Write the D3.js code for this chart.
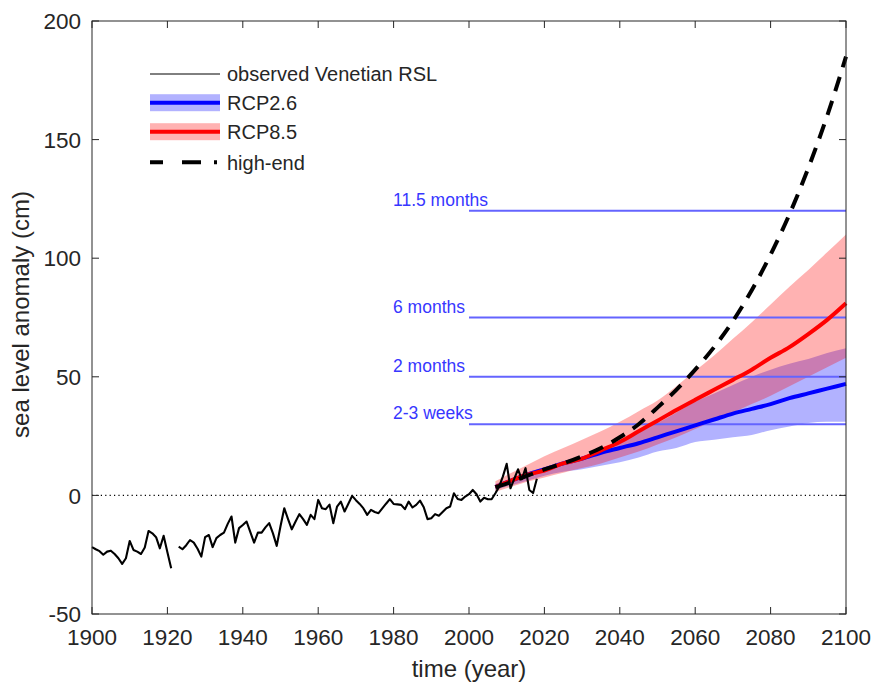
<!DOCTYPE html>
<html>
<head>
<meta charset="utf-8">
<script src="https://cdn.jsdelivr.net/npm/d3@7"></script>
<style>
  body { margin: 0; background: #fff; }
  svg { display: block; font-family: "Liberation Sans", Arial, Helvetica, sans-serif; }
</style>
</head>
<body>
<div id="chart"></div>
<script>
////////////////////////////// DATA ////////////////////////////////////

// Observed Venetian relative sea level, annual values 1900-2018 (1922 missing)
const obsStartYear = 1900;
const obsValues = [
  -21.8, -22.7, -23.5, -25, -23.7, -23.3, -24.7, -26.5, -28.9, -26.5,
  -19.2, -23, -23.7, -24.7, -22, -15, -16, -17.6, -22.3, -17,
  -24, -30.7, null, -21.6, -22.7, -21, -18.8, -19.9, -22.5, -25.8,
  -17.6, -16.7, -21.8, -18, -16.7, -15.7, -12, -8.9, -19.9, -13.8,
  -12.5, -11, -15.5, -19.9, -15.7, -15.7, -13.5, -11.7, -16, -21.3,
  -13, -5.4, -10, -14.3, -11, -7.9, -10, -12.4, -8.2, -10,
  -1.9, -5.4, -5.8, -3.9, -11.7, -4.7, -2.6, -6.8, -3.5, -0.2,
  -2, -3.6, -5.5, -8.2, -6.1, -7, -7.5, -5.5, -3.5, -1.6,
  -3.6, -3.8, -4, -5.8, -2.6, -5.1, -4, -2.2, -5, -10,
  -9.6, -7.9, -8.6, -7, -5.4, -4.7, 0.9, -1.5, -1.9, -0.5,
  0.5, 2.3, 0.5, -2.6, -1, -1.6, -1.6, 0.9, 3.7, 8,
  13.3, 3, 7, 11, 6.8, 11.5, 2.3, 1, 7
];

// Projection years
const projYears = [2007, 2010, 2015, 2020, 2025, 2030, 2035, 2040, 2045, 2050,
  2055, 2060, 2065, 2070, 2075, 2080, 2085, 2090, 2095, 2100];

// RCP2.6 median and 5-95% range
const rcp26Mid = [3.5, 5.5, 8.5, 11, 13.5, 15.5, 18, 20, 22, 24.5,
  27, 29.5, 32, 34.5, 36.5, 38.5, 41, 43, 45, 47];
const rcp26Low = [2.3, 3.7, 6, 8.3, 10, 11, 12.5, 14, 16, 18.5,
  20, 22.5, 23.5, 24.5, 25.5, 27.5, 29, 30.5, 31, 31];
const rcp26High = [4.8, 6.5, 9.5, 12, 14.5, 16.5, 19.5, 22.5, 26.5, 30.5,
  35, 39.5, 43, 46.5, 50, 53, 55.5, 57.5, 60, 62];

// RCP8.5 median and 5-95% range
const rcp85Mid = [3.5, 5.5, 8.5, 10.5, 13.5, 15.5, 19, 22.5, 27, 31.5,
  36, 40.3, 44.5, 48.7, 53, 58, 62.5, 68, 74, 81];
const rcp85Low = [1.5, 3, 5.5, 7.5, 9.5, 11.5, 13.5, 16, 18.5, 21.5,
  24.5, 28, 31.5, 35, 38.5, 42, 46, 50, 54, 58];
const rcp85High = [6, 8.5, 12.5, 16.5, 20, 23.5, 27, 31, 35.5, 40,
  46, 52.5, 59, 66, 73, 80.5, 88, 95, 102.5, 110];

// High-end scenario
const highEnd = [3.5, 5, 8, 11, 13.5, 16.5, 20, 24.5, 30, 37,
  44.5, 53, 62.5, 73.5, 86.5, 101.5, 118.5, 138, 160, 185];

// Flooding frequency thresholds
const thresholdValues = [120, 75, 50, 30];
const thresholdLabels = ["11.5 months", "6 months", "2 months", "2-3 weeks"];

// Axis ticks
const xTicks = [1900, 1920, 1940, 1960, 1980, 2000, 2020, 2040, 2060, 2080, 2100];
const yTicks = [-50, 0, 50, 100, 150, 200];

////////////////////////////// SET UP ////////////////////////////////////

const width = 876;
const height = 688;
const plot = { left: 92, right: 846, top: 21, bottom: 614 };
const axisColor = "#262626";

const svg = d3
  .select("#chart")
  .append("svg")
  .attr("width", width)
  .attr("height", height);

const x = d3.scaleLinear().domain([1900, 2100]).range([plot.left, plot.right]);
const y = d3.scaleLinear().domain([-50, 200]).range([plot.bottom, plot.top]);

const obs = obsValues.map((v, i) => ({ year: obsStartYear + i, value: v }));
const proj = projYears.map((yr, i) => ({
  year: yr,
  mid26: rcp26Mid[i], low26: rcp26Low[i], high26: rcp26High[i],
  mid85: rcp85Mid[i], low85: rcp85Low[i], high85: rcp85High[i],
  high: highEnd[i],
}));

////////////////////////////// BANDS ////////////////////////////////////

const band = (lo, hi) =>
  d3.area()
    .curve(d3.curveMonotoneX)
    .x((d) => x(d.year))
    .y0((d) => y(d[lo]))
    .y1((d) => y(d[hi]));

svg.append("path")
  .datum(proj)
  .attr("d", band("low26", "high26"))
  .attr("fill", "rgb(0,0,255)")
  .attr("fill-opacity", 0.3);

svg.append("path")
  .datum(proj)
  .attr("d", band("low85", "high85"))
  .attr("fill", "rgb(255,0,0)")
  .attr("fill-opacity", 0.3);

////////////////////////////// THRESHOLD LINES ////////////////////////////////////

svg.selectAll(".threshold")
  .data(thresholdValues)
  .join("line")
  .attr("class", "threshold")
  .attr("x1", x(2000))
  .attr("x2", x(2100))
  .attr("y1", (d) => y(d))
  .attr("y2", (d) => y(d))
  .attr("stroke", "rgb(100,100,255)")
  .attr("stroke-width", 2);

svg.selectAll(".threshold-label")
  .data(thresholdValues)
  .join("text")
  .attr("class", "threshold-label")
  .attr("x", 393)
  .attr("y", (d) => y(d) - 5)
  .attr("fill", "rgb(55,55,255)")
  .style("font-size", "17.5px")
  .text((d, i) => thresholdLabels[i]);

// zero line
svg.append("line")
  .attr("x1", plot.left)
  .attr("x2", plot.right)
  .attr("y1", y(0))
  .attr("y2", y(0))
  .attr("stroke", "#000")
  .attr("stroke-width", 1.2)
  .attr("stroke-dasharray", "1.2,3.2");

////////////////////////////// LINES ////////////////////////////////////

const lineOf = (key) =>
  d3.line().curve(d3.curveMonotoneX).x((d) => x(d.year)).y((d) => y(d[key]));

svg.append("path")
  .datum(proj)
  .attr("d", lineOf("mid26"))
  .attr("fill", "none")
  .attr("stroke", "#0000ff")
  .attr("stroke-width", 4);

svg.append("path")
  .datum(proj)
  .attr("d", lineOf("mid85"))
  .attr("fill", "none")
  .attr("stroke", "#ff0000")
  .attr("stroke-width", 4);

svg.append("path")
  .datum(obs)
  .attr("d", d3.line()
    .defined((d) => d.value !== null)
    .x((d) => x(d.year))
    .y((d) => y(d.value)))
  .attr("fill", "none")
  .attr("stroke", "#000")
  .attr("stroke-width", 2.1)
  .attr("stroke-linejoin", "round");

svg.append("path")
  .datum(proj)
  .attr("d", lineOf("high"))
  .attr("fill", "none")
  .attr("stroke", "#000")
  .attr("stroke-width", 4)
  .attr("stroke-dasharray", "15,10");

////////////////////////////// AXES ////////////////////////////////////

const tickLen = 7;
const frame = svg.append("g").attr("stroke", axisColor).attr("stroke-width", 1);

frame.append("rect")
  .attr("x", plot.left)
  .attr("y", plot.top)
  .attr("width", plot.right - plot.left)
  .attr("height", plot.bottom - plot.top)
  .attr("fill", "none");

xTicks.forEach((t) => {
  frame.append("line").attr("x1", x(t)).attr("x2", x(t))
    .attr("y1", plot.bottom).attr("y2", plot.bottom - tickLen);
  frame.append("line").attr("x1", x(t)).attr("x2", x(t))
    .attr("y1", plot.top).attr("y2", plot.top + tickLen);
});
yTicks.forEach((t) => {
  frame.append("line").attr("y1", y(t)).attr("y2", y(t))
    .attr("x1", plot.left).attr("x2", plot.left + tickLen);
  frame.append("line").attr("y1", y(t)).attr("y2", y(t))
    .attr("x1", plot.right).attr("x2", plot.right - tickLen);
});

svg.selectAll(".xtick")
  .data(xTicks)
  .join("text")
  .attr("class", "xtick")
  .attr("x", (d) => x(d))
  .attr("y", 645)
  .attr("text-anchor", "middle")
  .attr("fill", axisColor)
  .style("font-size", "22.5px")
  .text((d) => d);

svg.selectAll(".ytick")
  .data(yTicks)
  .join("text")
  .attr("class", "ytick")
  .attr("x", plot.left - 11)
  .attr("y", (d) => y(d))
  .attr("dy", "0.36em")
  .attr("text-anchor", "end")
  .attr("fill", axisColor)
  .style("font-size", "22.5px")
  .text((d) => d);

svg.append("text")
  .attr("x", (plot.left + plot.right) / 2)
  .attr("y", 677)
  .attr("text-anchor", "middle")
  .attr("fill", axisColor)
  .style("font-size", "24px")
  .text("time (year)");

svg.append("text")
  .attr("transform", `translate(29,${(plot.top + plot.bottom) / 2 - 3}) rotate(-90)`)
  .attr("text-anchor", "middle")
  .attr("fill", axisColor)
  .style("font-size", "24px")
  .text("sea level anomaly (cm)");

////////////////////////////// LEGEND ////////////////////////////////////

const legendItems = [
  { label: "observed Venetian RSL", color: "#000", width: 1, band: null, dash: null },
  { label: "RCP2.6", color: "#0000ff", width: 4, band: "rgb(0,0,255)", dash: null },
  { label: "RCP8.5", color: "#ff0000", width: 4, band: "rgb(255,0,0)", dash: null },
  { label: "high-end", color: "#000", width: 4, band: null, dash: "13,19,19,13,3" },
];
const legendY = [74, 102.7, 131.7, 162.3];

const legend = svg.append("g");
legendItems.forEach((item, i) => {
  const ly = legendY[i];
  if (item.band) {
    legend.append("rect")
      .attr("x", 150).attr("y", ly - 8.5)
      .attr("width", 70).attr("height", 17)
      .attr("fill", item.band).attr("fill-opacity", 0.3);
  }
  legend.append("line")
    .attr("x1", 150).attr("x2", 220)
    .attr("y1", ly).attr("y2", ly)
    .attr("stroke", item.color)
    .attr("stroke-width", item.width)
    .attr("stroke-dasharray", item.dash);
  legend.append("text")
    .attr("x", 227).attr("y", ly)
    .attr("dy", "0.36em")
    .attr("fill", axisColor)
    .style("font-size", "20px")
    .text(item.label);
});
</script>
</body>
</html>
